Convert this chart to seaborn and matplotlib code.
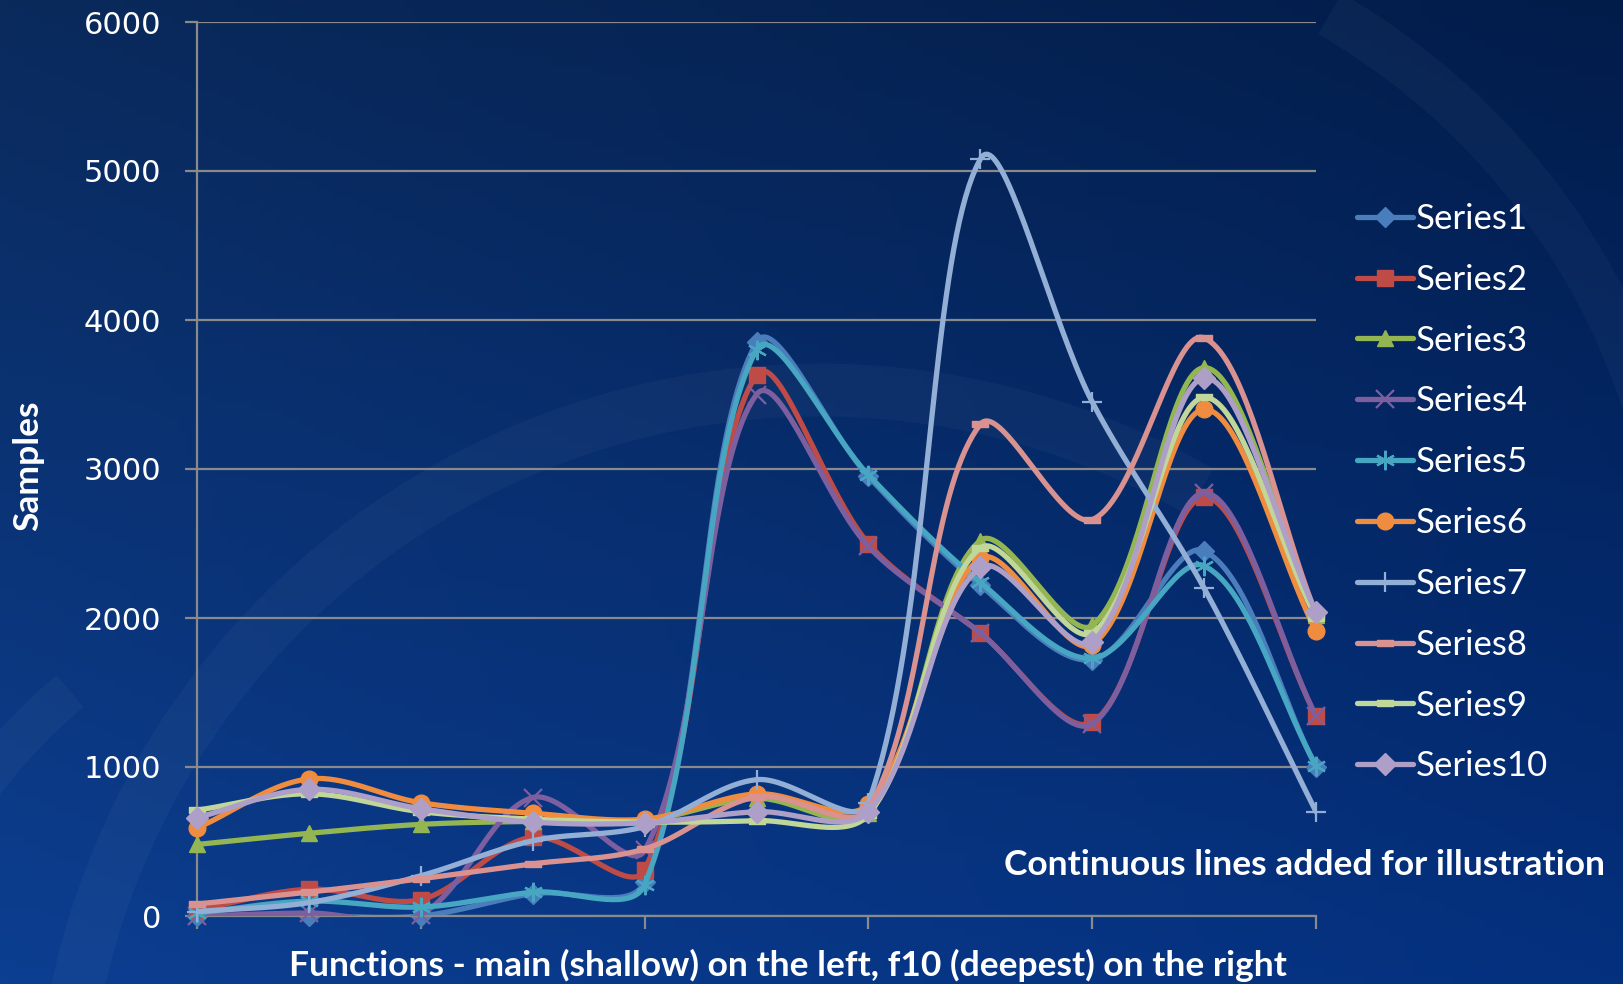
import numpy as np
import matplotlib
matplotlib.use("Agg")
import matplotlib.pyplot as plt
from matplotlib.lines import Line2D
from matplotlib.patches import Arc
import seaborn as sns

# ---------------------------------------------------------------
# data (samples per function, main = 0 ... f10 = 10)
# ---------------------------------------------------------------
functions = list(range(11))
series_names = ["Series1", "Series2", "Series3", "Series4", "Series5",
                "Series6", "Series7", "Series8", "Series9", "Series10"]

series1 = [0, 0, 0, 150, 230, 3850, 2950, 2220, 1720, 2450, 1000]
series2 = [40, 180, 110, 530, 310, 3630, 2500, 1900, 1300, 2810, 1340]
series3 = [480, 555, 615, 635, 640, 790, 690, 2520, 1950, 3680, 2020]
series4 = [0, 20, 10, 795, 440, 3500, 2480, 1900, 1290, 2840, 1340]
series5 = [20, 100, 60, 160, 210, 3800, 2960, 2240, 1730, 2350, 1010]
series6 = [590, 920, 760, 690, 650, 820, 750, 2400, 1820, 3400, 1910]
series7 = [30, 90, 270, 505, 600, 915, 760, 5080, 3450, 2200, 700]
series8 = [80, 160, 250, 350, 450, 800, 720, 3300, 2660, 3880, 2030]
series9 = [710, 820, 700, 650, 630, 640, 680, 2470, 1900, 3480, 2000]
series10 = [660, 850, 720, 630, 625, 700, 700, 2340, 1840, 3610, 2040]

all_series = [series1, series2, series3, series4, series5,
              series6, series7, series8, series9, series10]

y_ticks = [0, 1000, 2000, 3000, 4000, 5000, 6000]

# ---------------------------------------------------------------
# style
# ---------------------------------------------------------------
colors = ["#4a7dbb", "#bf4b47", "#93b552", "#7d5f9f", "#47a7c2",
          "#ef8c3f", "#93afd6", "#d9928f", "#c1d699", "#ae9fc8"]
dash = [(-1, -0.4), (1, -0.4), (1, 0.4), (-1, 0.4), (-1, -0.4)]
markers = ["D", "s", "^", "x", (6, 2, 0), "o", "+", dash, dash, "D"]
msizes = [10, 11, 12, 13, 14, 12, 15, 11, 11, 11]

sns.set_theme(style="dark")
plt.rcParams["font.family"] = ["Lato", "DejaVu Sans"]

W, H = 1624, 984
fig = plt.figure(figsize=(W / 100, H / 100), dpi=100)

# background gradient + faint decorative swooshes
bg = fig.add_axes([0, 0, 1, 1], zorder=0)
tl, tr = np.array([10, 42, 92]), np.array([2, 28, 74])
bl, br = np.array([12, 62, 145]), np.array([4, 48, 126])
u = np.linspace(0, 1, 200)[None, :, None]
v = np.linspace(0, 1, 120)[:, None, None]
grad = ((1 - v) * ((1 - u) * tl + u * tr) + v * ((1 - u) * bl + u * br)) / 255
bg.imshow(grad, extent=[0, W, H, 0], aspect="auto")
for cx, cy, r, t1, t2, lw in [(820, 1150, 760, 185, 300, 38),
                              (430, 1120, 560, 140, 230, 30),
                              (980, 620, 700, 300, 360, 34)]:
    bg.add_patch(Arc((cx, cy), 2 * r, 2 * r, theta1=t1, theta2=t2,
                     color="white", alpha=0.03, lw=lw))
bg.set_xlim(0, W)
bg.set_ylim(H, 0)
bg.axis("off")

# main axes
left, right, top, bottom = 197, 1316, 22, 916
ax = fig.add_axes([left / W, 1 - bottom / H, (right - left) / W, (bottom - top) / H], zorder=1)
ax.set_facecolor("none")
ax.set_xlim(0, 10)
ax.set_ylim(0, 6000)

sx = (right - left) / 10.0
sy = (bottom - top) / 6000.0


def smooth_curve(xs, ys, n=40):
    # Bezier smoothing similar to spreadsheet "smoothed line" (done in pixel space)
    P = np.column_stack([np.asarray(xs, float) * sx, np.asarray(ys, float) * sy])
    ext = np.vstack([P[0], P, P[-1]])
    d = np.hypot(*np.diff(ext, axis=0).T)
    T = ext[2:] - ext[:-2]
    t = np.linspace(0, 1, n)[:, None]
    out = []
    for i in range(len(P) - 1):
        d0, d1, d2 = d[i], d[i + 1], d[i + 2]
        c1 = P[i] + T[i] * d1 / (d0 + d1) / 3
        c2 = P[i + 1] - T[i + 1] * d1 / (d1 + d2) / 3
        seg = (1 - t) ** 3 * P[i] + 3 * (1 - t) ** 2 * t * c1 + 3 * (1 - t) * t ** 2 * c2 + t ** 3 * P[i + 1]
        out.append(seg if i == 0 else seg[1:])
    pts = np.vstack(out)
    return pts[:, 0] / sx, pts[:, 1] / sy


handles = []
for k, vals in enumerate(all_series):
    cxs, cys = smooth_curve(functions, vals)
    sns.lineplot(x=cxs, y=cys, sort=False, estimator=None, ax=ax,
                 color=colors[k], lw=3.8, zorder=2 + k)
    mk = markers[k]
    line_mk = mk in ("x", "+") or isinstance(mk, tuple)
    ax.plot(functions, vals, ls="none", marker=mk, ms=msizes[k],
            mfc=colors[k], mec=colors[k], mew=1.6 if line_mk else 1,
            clip_on=False, zorder=2.5 + k)
    handles.append(Line2D([], [], color=colors[k], lw=3.8, marker=mk, ms=msizes[k],
                          mfc=colors[k], mec=colors[k], mew=1.6 if line_mk else 1))

# grid, spines, ticks
grid_c = "#8a8a8a"
ax.set_yticks(y_ticks)
ax.set_xticks([0, 2, 4, 6, 8, 10])
ax.set_xticklabels([])
ax.yaxis.grid(True, color=grid_c, lw=1.6)
ax.xaxis.grid(False)
for s in ["top", "right"]:
    ax.spines[s].set_visible(False)
for s in ["left", "bottom"]:
    ax.spines[s].set_visible(True)
    ax.spines[s].set_color(grid_c)
    ax.spines[s].set_linewidth(1.6)
ax.tick_params(axis="y", length=9, width=1.6, color=grid_c, pad=17,
               labelsize=22, labelcolor="white", left=True)
ax.tick_params(axis="x", length=9, width=1.6, color=grid_c, bottom=True)
for lab in ax.get_yticklabels():
    lab.set_fontfamily("DejaVu Sans")
ax.set_xlabel("")
ax.set_ylabel("")

# texts
fig.text(28 / W, 1 - 466 / H, "Samples", rotation=90, ha="center", va="center",
         fontsize=25.5, fontweight="bold", color="white")
fig.text(788 / W, 1 - 965 / H, "Functions - main (shallow) on the left, f10 (deepest) on the right",
         ha="center", va="center", fontsize=25.5, fontweight="bold", color="white")
fig.text(1605 / W, 1 - 865 / H, "Continuous lines added for illustration",
         ha="right", va="center", fontsize=25.5, fontweight="bold", color="white")

leg = ax.legend(handles, series_names, loc="upper left",
                bbox_to_anchor=(1357 / W, 1 - 203 / H), bbox_transform=fig.transFigure,
                frameon=False, fontsize=25, handlelength=1.6, handletextpad=0.1,
                labelspacing=0.83, borderpad=0, borderaxespad=0)
for txt in leg.get_texts():
    txt.set_color("white")

fig.savefig("out.png", dpi=100)
